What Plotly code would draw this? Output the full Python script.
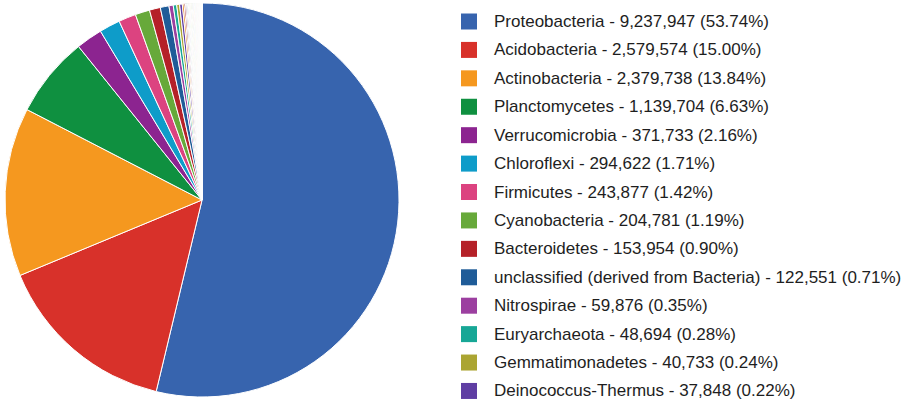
import plotly.graph_objects as go

# Phyla shown in the legend (read counts)
phyla = [
    "Proteobacteria", "Acidobacteria", "Actinobacteria", "Planctomycetes",
    "Verrucomicrobia", "Chloroflexi", "Firmicutes", "Cyanobacteria",
    "Bacteroidetes", "unclassified (derived from Bacteria)", "Nitrospirae",
    "Euryarchaeota", "Gemmatimonadetes", "Deinococcus-Thermus",
]
counts = [
    9237947, 2579574, 2379738, 1139704, 371733, 294622, 243877, 204781,
    153954, 122551, 59876, 48694, 40733, 37848,
]
percents = [
    "53.74%", "15.00%", "13.84%", "6.63%", "2.16%", "1.71%", "1.42%",
    "1.19%", "0.90%", "0.71%", "0.35%", "0.28%", "0.24%", "0.22%",
]

# Smaller phyla drawn in the pie only
minor_phyla = [
    "Armatimonadetes", "Chlorobi", "Thaumarchaeota", "Crenarchaeota",
    "Chlamydiae", "Spirochaetes", "Fibrobacteres", "Lentisphaerae",
    "Tenericutes", "Caldiserica", "Chrysiogenetes",
]
minor_counts = [24310, 19870, 15640, 12960, 10330, 8410, 6870, 5650, 4320, 3610, 2980]

# Long tail of rare taxa
tail_counts = [
    7950, 7620, 7310, 6980, 6740, 6420, 6180, 5930, 5710, 5460, 5230, 5010,
    4820, 4610, 4430, 4250, 4060, 3890, 3720, 3560, 3410, 3270, 3120, 2980,
    2850, 2710, 2590, 2460, 2340, 2210, 2090, 1970, 1860, 1740, 1630, 1520,
    1410, 1300, 1190, 1080, 970, 860, 750, 640, 560, 480, 410, 350, 290,
    240, 190, 150,
]
tail_labels = [f"rare taxon {i + 1}" for i in range(len(tail_counts))]

legend_colors = [
    "#3764ae", "#d8312a", "#f5981f", "#0f9040", "#8c2490", "#0e9cc9",
    "#dc4380", "#67a93a", "#b52128", "#1f5c98", "#9c3fa0", "#17a796",
    "#aba532", "#5f3ea3",
]
extra_palette = [
    "#e67300", "#8b0707", "#651067", "#329262", "#5574a6", "#3b3eac",
    "#b77322", "#16d620", "#b91383", "#f4359e", "#9c5935", "#a9c413",
    "#2a778d", "#668d1c", "#bea413", "#0c5922", "#743411",
    "#3366cc", "#dc3912", "#ff9900", "#109618", "#990099", "#0099c6",
    "#dd4477", "#66aa00", "#b82e2e", "#316395", "#994499", "#22aa99",
    "#aaaa11", "#6633cc",
]

labels = phyla + minor_phyla + tail_labels
values = counts + minor_counts + tail_counts
n_extra = len(values) - len(legend_colors)
colors = legend_colors + [extra_palette[i % len(extra_palette)] for i in range(n_extra)]

W, H = 911, 405
cx, cy, r = 202, 200, 197

fig = go.Figure(
    go.Pie(
        labels=labels,
        values=values,
        sort=False,
        direction="clockwise",
        rotation=0,
        textinfo="none",
        showlegend=False,
        marker=dict(colors=colors, line=dict(color="white", width=1)),
        domain=dict(
            x=[(cx - r) / W, (cx + r) / W],
            y=[1 - (cy + r) / H, 1 - (cy - r) / H],
        ),
    )
)

# Legend: colour swatches with label, count and share
row0, step, box = 21.5, 28.42, 16
sq_x0, text_x = 461, 492
shapes, annotations = [], []
for i, (name, cnt, pct) in enumerate(zip(phyla, counts, percents)):
    yc = row0 + i * step
    shapes.append(dict(
        type="rect", xref="paper", yref="paper",
        x0=sq_x0 / W, x1=(sq_x0 + box) / W,
        y0=1 - (yc + box / 2) / H, y1=1 - (yc - box / 2) / H,
        fillcolor=legend_colors[i], line=dict(width=0),
    ))
    annotations.append(dict(
        xref="paper", yref="paper", x=text_x / W, y=1 - yc / H,
        xanchor="left", yanchor="middle", showarrow=False,
        text=f"{name} - {cnt:,} ({pct})",
        font=dict(family="Liberation Sans, Arial, sans-serif", size=17, color="#1e1e1e"),
    ))

fig.update_layout(
    width=W, height=H,
    margin=dict(l=0, r=0, t=0, b=0),
    paper_bgcolor="white", plot_bgcolor="white",
    shapes=shapes, annotations=annotations,
)

fig.write_html("out.html")
